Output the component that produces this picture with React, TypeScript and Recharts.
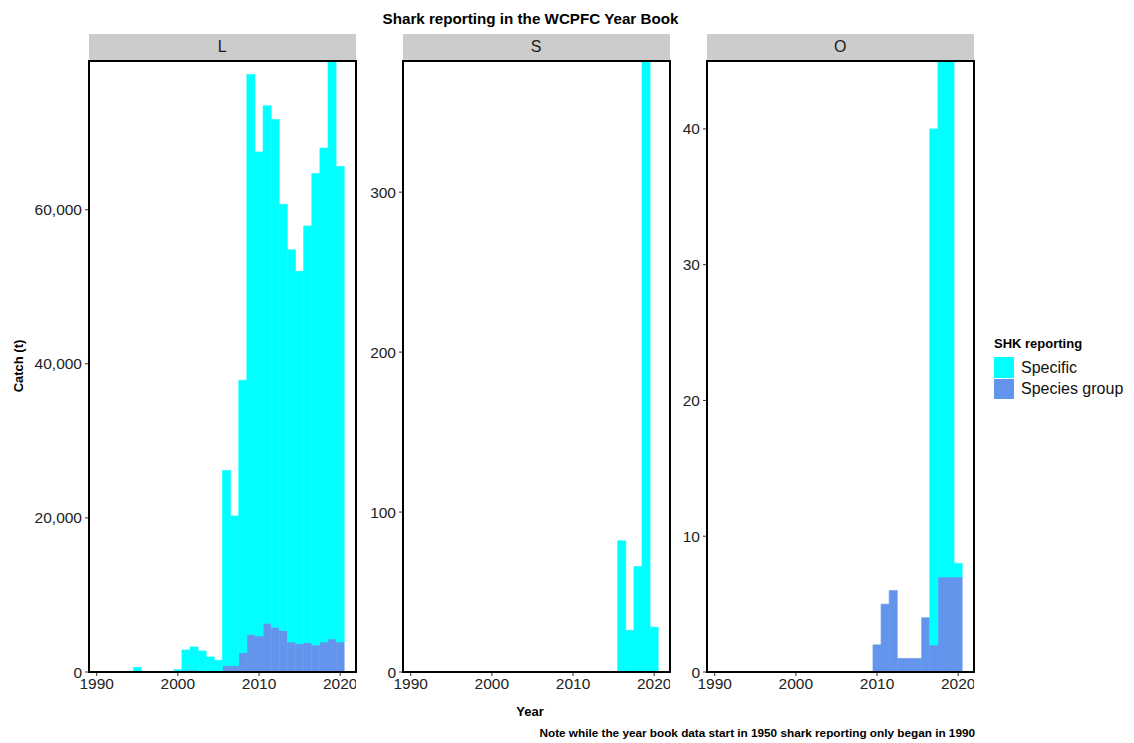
import { BarChart, Bar, XAxis, YAxis } from "recharts";

const YEARS = [
  1990, 1991, 1992, 1993, 1994, 1995, 1996, 1997, 1998, 1999, 2000, 2001,
  2002, 2003, 2004, 2005, 2006, 2007, 2008, 2009, 2010, 2011, 2012, 2013,
  2014, 2015, 2016, 2017, 2018, 2019, 2020,
];

// Longline (L)
const L_SPECIFIC = [
  0, 0, 0, 0, 0, 600, 0, 0, 0, 0, 300, 2640, 3000, 2630, 1850, 1420, 25330,
  19440, 35360, 72690, 62820, 67170, 65890, 55320, 50900, 48320, 54090, 61190,
  64100, 75010, 61700,
];
const L_GROUP = [
  0, 0, 0, 0, 0, 0, 0, 0, 0, 0, 0, 220, 250, 100, 100, 100, 820, 820, 2510,
  4860, 4680, 6330, 5810, 5380, 3900, 3680, 3810, 3510, 3900, 4290, 3900,
];

// Purse seine (S)
const S_SPECIFIC = [
  0, 0, 0, 0, 0, 0, 0, 0, 0, 0, 0, 0, 0, 0, 0, 0, 0, 0, 0, 0, 0, 0, 0, 0, 0,
  0, 82, 26, 66, 382, 28,
];
const S_GROUP = [
  0, 0, 0, 0, 0, 0, 0, 0, 0, 0, 0, 0, 0, 0, 0, 0, 0, 0, 0, 0, 0, 0, 0, 0, 0,
  0, 0, 0, 0, 0, 0,
];

// Other (O)
const O_SPECIFIC = [
  0, 0, 0, 0, 0, 0, 0, 0, 0, 0, 0, 0, 0, 0, 0, 0, 0, 0, 0, 0, 0, 0, 0, 0, 0,
  0, 0, 38, 38, 38, 1,
];
const O_GROUP = [
  0, 0, 0, 0, 0, 0, 0, 0, 0, 0, 0, 0, 0, 0, 0, 0, 0, 0, 0, 0, 2, 5, 6, 1, 1,
  1, 4, 2, 7, 7, 7,
];

const X_TICKS = [1990, 2000, 2010, 2020];
const L_TICKS = [0, 20000, 40000, 60000];
const S_TICKS = [0, 100, 200, 300];
const O_TICKS = [0, 10, 20, 30, 40];

const FONT = '"Liberation Sans", Arial, sans-serif';
const SPECIFIC_COL = "#00FFFF";
const GROUP_COL = "#6495ED";

const X_DOMAIN = [1989.05, 2021.95];
const PLOT_TOP = 61;
const PLOT_H = 611;
const PLOT_W = 267;
const STRIP_H = 26;
const X_AXIS_H = 40;
// recharts shrinks bars to 90% when barSize >= band, so stay just under one year
const BAR_W = PLOT_W / (X_DOMAIN[1] - X_DOMAIN[0]) - 0.02;

const fmtThousands = (v: number) => v.toLocaleString("en-US");

interface PanelProps {
  label: string;
  left: number;
  yWidth: number;
  specific: number[];
  group: number[];
  yMax: number;
  ticks: number[];
}

function Panel({ label, left, yWidth, specific, group, yMax, ticks }: PanelProps) {
  const data = YEARS.map((year, i) => ({
    year,
    group: group[i],
    specific: specific[i],
  }));

  return (
    <>
      {/* facet strip */}
      <div
        style={{
          position: "absolute",
          left,
          top: PLOT_TOP - STRIP_H - 1,
          width: PLOT_W,
          height: STRIP_H,
          background: "#CCCCCC",
          color: "#1a1a1a",
          fontSize: 16,
          lineHeight: `${STRIP_H}px`,
          textAlign: "center",
        }}
      >
        {label}
      </div>

      <div style={{ position: "absolute", left: left - yWidth, top: PLOT_TOP }}>
        <BarChart
          width={yWidth + PLOT_W}
          height={PLOT_H + X_AXIS_H}
          data={data}
          margin={{ top: 0, right: 0, bottom: 0, left: 0 }}
          barCategoryGap={0}
          barGap={0}
        >
          <XAxis
            dataKey="year"
            type="number"
            domain={X_DOMAIN}
            ticks={X_TICKS}
            allowDataOverflow
            height={X_AXIS_H}
            axisLine={false}
            stroke="#333"
            tickSize={4}
            tickMargin={2}
            tick={{ fill: "#222", fontSize: 15.5, fontFamily: FONT }}
          />
          <YAxis
            type="number"
            domain={[0, yMax]}
            ticks={ticks}
            allowDataOverflow
            width={yWidth}
            axisLine={false}
            stroke="#333"
            tickSize={4}
            tickMargin={3}
            tickFormatter={fmtThousands}
            tick={{ fill: "#222", fontSize: 15.5, fontFamily: FONT }}
          />
          <Bar
            dataKey="group"
            stackId="shk"
            fill={GROUP_COL}
            stroke={GROUP_COL}
            strokeWidth={0.6}
            barSize={BAR_W}
            isAnimationActive={false}
          />
          <Bar
            dataKey="specific"
            stackId="shk"
            fill={SPECIFIC_COL}
            stroke={SPECIFIC_COL}
            strokeWidth={0.6}
            barSize={BAR_W}
            isAnimationActive={false}
          />
        </BarChart>
      </div>

      {/* panel border */}
      <div
        style={{
          position: "absolute",
          left: left - 1,
          top: PLOT_TOP - 1,
          width: PLOT_W + 2,
          height: PLOT_H + 2,
          border: "2px solid #000",
          boxSizing: "border-box",
          pointerEvents: "none",
        }}
      />
    </>
  );
}

export default function App() {
  return (
    <div
      style={{
        position: "absolute",
        left: 0,
        top: 0,
        width: 1134,
        height: 743,
        background: "#fff",
        fontFamily: FONT,
        overflow: "hidden",
      }}
    >
      <div
        style={{
          position: "absolute",
          left: 0,
          width: 1061,
          top: 18,
          transform: "translateY(-50%)",
          textAlign: "center",
          fontWeight: "bold",
          fontSize: 15.2,
          color: "#000",
          whiteSpace: "nowrap",
        }}
      >
        Shark reporting in the WCPFC Year Book
      </div>

      <Panel
        label="L"
        left={88.7}
        yWidth={80}
        specific={L_SPECIFIC}
        group={L_GROUP}
        yMax={79300}
        ticks={L_TICKS}
      />
      <Panel
        label="S"
        left={402.5}
        yWidth={40}
        specific={S_SPECIFIC}
        group={S_GROUP}
        yMax={382}
        ticks={S_TICKS}
      />
      <Panel
        label="O"
        left={706.7}
        yWidth={40}
        specific={O_SPECIFIC}
        group={O_GROUP}
        yMax={45}
        ticks={O_TICKS}
      />

      {/* y axis title */}
      <div
        style={{
          position: "absolute",
          left: 18,
          top: 366,
          transform: "translate(-50%, -50%) rotate(-90deg)",
          whiteSpace: "nowrap",
          fontWeight: "bold",
          fontSize: 13,
        }}
      >
        Catch (t)
      </div>

      {/* x axis title */}
      <div
        style={{
          position: "absolute",
          left: 530,
          top: 711,
          transform: "translate(-50%, -50%)",
          fontWeight: "bold",
          fontSize: 13,
        }}
      >
        Year
      </div>

      {/* caption */}
      <div
        style={{
          position: "absolute",
          right: 1134 - 975,
          top: 732,
          transform: "translateY(-50%)",
          whiteSpace: "nowrap",
          fontWeight: "bold",
          fontSize: 11.75,
        }}
      >
        Note while the year book data start in 1950 shark reporting only began in 1990
      </div>

      {/* legend */}
      <div
        style={{
          position: "absolute",
          left: 994,
          top: 343,
          transform: "translateY(-50%)",
          fontWeight: "bold",
          fontSize: 13,
          whiteSpace: "nowrap",
        }}
      >
        SHK reporting
      </div>
      {[
        { name: "Specific", color: SPECIFIC_COL, y: 357 },
        { name: "Species group", color: GROUP_COL, y: 378.5 },
      ].map((item) => (
        <div key={item.name}>
          <div
            style={{
              position: "absolute",
              left: 994,
              top: item.y,
              width: 20,
              height: 20.5,
              background: item.color,
            }}
          />
          <div
            style={{
              position: "absolute",
              left: 1021,
              top: item.y + 10.5,
              transform: "translateY(-50%)",
              fontSize: 16,
              color: "#111",
              whiteSpace: "nowrap",
            }}
          >
            {item.name}
          </div>
        </div>
      ))}
    </div>
  );
}
